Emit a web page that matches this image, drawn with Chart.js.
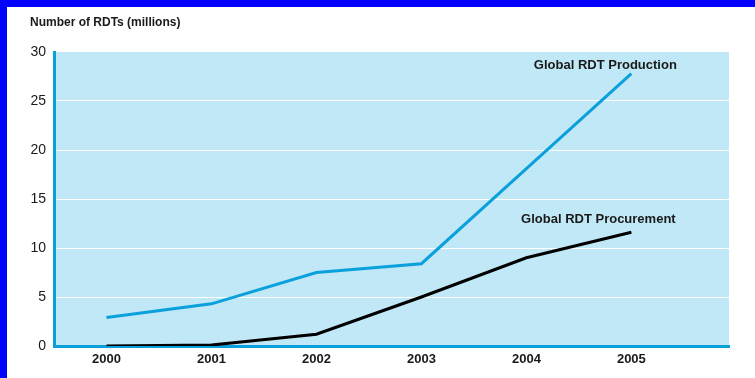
<!DOCTYPE html>
<html>
<head>
<meta charset="utf-8">
<script src="https://cdn.jsdelivr.net/npm/chart.js@4"></script>
<style>
  html, body { margin: 0; padding: 0; background: #fff; }
  body { width: 748px; height: 371px; border-left: 7px solid #0000ff; border-top: 7px solid #0000ff; overflow: hidden; }
  #wrap { width: 748px; height: 371px; position: relative; }
</style>
</head>
<body>
<div id="wrap"><canvas id="rdtChart"></canvas></div>
<script>
// Data
const years = [2000, 2001, 2002, 2003, 2004, 2005];
const production = [2.9, 4.3, 7.5, 8.4, 18.1, 27.8];
const procurement = [0.0, 0.1, 1.2, 5.0, 9.0, 11.6];
const yTicks = [0, 5, 10, 15, 20, 25, 30];

const lineBlue = "#0aa0dc";
const plotBg = "#c0e8f7";
const textDark = "#1a1a1a";

// Plot background, title and line labels
const decorations = {
  id: "decorations",
  beforeDraw(chart) {
    const { ctx, chartArea } = chart;
    ctx.save();
    ctx.fillStyle = plotBg;
    ctx.fillRect(chartArea.left, chartArea.top, chartArea.right - chartArea.left, chartArea.bottom - chartArea.top);
    ctx.restore();
  },
  afterDatasetsDraw(chart) {
    const { ctx, scales } = chart;
    ctx.save();
    ctx.fillStyle = textDark;
    ctx.font = "bold 12px 'Liberation Sans', Arial, sans-serif";
    ctx.textAlign = "left";
    ctx.textBaseline = "middle";
    ctx.fillText("Number of RDTs (millions)", 23, 16);

    ctx.font = "bold 13px 'Liberation Sans', Arial, sans-serif";
    ctx.textAlign = "center";
    const x5 = scales.x.getPixelForValue(years[years.length - 1]);
    ctx.fillText("Global RDT Production", x5 - 26, scales.y.getPixelForValue(production[production.length - 1]) - 8);
    ctx.fillText("Global RDT Procurement", x5 - 33, scales.y.getPixelForValue(procurement[procurement.length - 1]) - 13);
    ctx.restore();
  },
};

document.addEventListener("DOMContentLoaded", function () {
  const ctx = document.getElementById("rdtChart").getContext("2d");
  new Chart(ctx, {
    type: "line",
    data: {
      datasets: [
        {
          label: "Global RDT Production",
          data: years.map((y, i) => ({ x: y, y: production[i] })),
          borderColor: lineBlue,
          borderWidth: 3,
          pointRadius: 0,
          tension: 0,
        },
        {
          label: "Global RDT Procurement",
          data: years.map((y, i) => ({ x: y, y: procurement[i] })),
          borderColor: "#000000",
          borderWidth: 3,
          pointRadius: 0,
          tension: 0,
        },
      ],
    },
    options: {
      responsive: true,
      maintainAspectRatio: false,
      animation: false,
      layout: { padding: { top: 45, right: 26, left: 0, bottom: 0 } },
      plugins: {
        legend: { display: false },
        tooltip: { enabled: false },
      },
      scales: {
        x: {
          type: "linear",
          min: 1999.5,
          max: 2005.93,
          afterBuildTicks: function (scale) {
            scale.ticks = years.map((v) => ({ value: v }));
          },
          afterFit: function (scale) {
            scale.height = 32;
          },
          grid: { display: false, drawTicks: false },
          border: { color: lineBlue, width: 3 },
          ticks: {
            padding: 6,
            color: textDark,
            font: { family: "'Liberation Sans', Arial, sans-serif", size: 13, weight: "bold" },
            callback: (v) => String(v),
          },
        },
        y: {
          min: 0,
          max: 30,
          afterBuildTicks: function (scale) {
            scale.ticks = yTicks.map((v) => ({ value: v }));
          },
          afterFit: function (scale) {
            scale.width = 47;
          },
          grid: {
            drawTicks: false,
            color: (c) => (c.tick && c.tick.value > 0 && c.tick.value < 30 ? "#ffffff" : "rgba(0,0,0,0)"),
            lineWidth: 1,
          },
          border: { color: lineBlue, width: 3 },
          ticks: {
            padding: 8,
            color: textDark,
            font: { family: "'Liberation Sans', Arial, sans-serif", size: 14 },
          },
        },
      },
    },
    plugins: [decorations],
  });
});
</script>
</body>
</html>
